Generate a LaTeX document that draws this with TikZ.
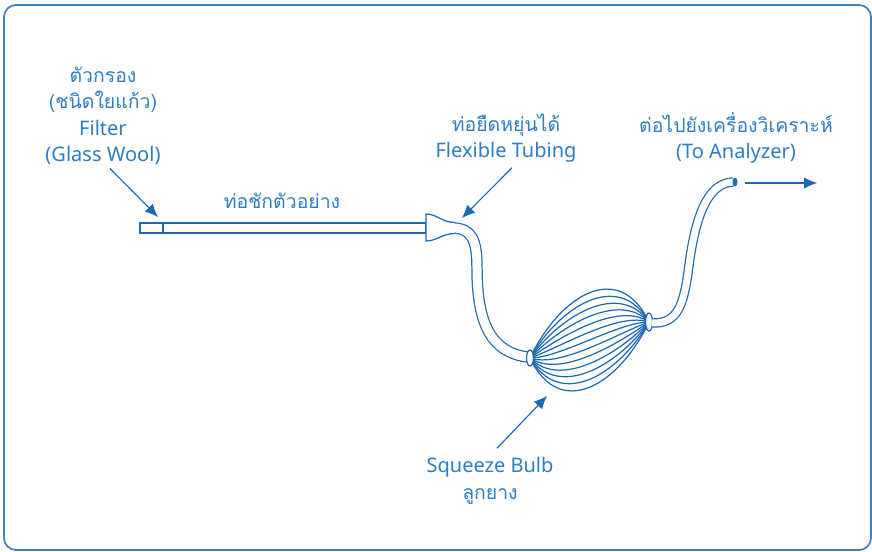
\documentclass[tikz,border=0pt]{standalone}
\usepackage{fontspec}
\setmainfont{Noto Sans}
\newfontfamily\thaifont[Script=Thai,Scale=0.97]{Loma}
\usetikzlibrary{arrows.meta}
\definecolor{lineblue}{RGB}{30,105,180}
\definecolor{textblue}{RGB}{45,125,195}

\begin{document}
\begin{tikzpicture}[x=0.02cm,y=-0.02cm,
    lbl/.style={text=textblue, align=center, inner sep=0pt,
      font=\fontsize{11.4}{15.1}\selectfont},
    pointer/.style={-{Latex[length=2.6mm,width=2.3mm]}, lineblue, line width=0.65pt},
    tube/.style={lineblue, line width=0.7pt, double=white},
    bulbline/.style={lineblue, line width=0.7pt}]
      \useasboundingbox (0,0) rectangle (872,551);
      \draw [lineblue!85, line width=1pt, rounded corners=0.24cm] (4,5) rectangle (871,550);

      % labels
      \node [lbl] (filter) at (103,116) {{\thaifont ตัวกรอง}\\{\thaifont (ชนิดใยแก้ว)}\\Filter\\(Glass Wool)};
      \node [lbl] (probe) at (282,201) {\thaifont ท่อชักตัวอย่าง};
      \node [lbl] (flex) at (506,138) {{\thaifont ท่อยืดหยุ่นได้}\\Flexible Tubing};
      \node [lbl] (analyzer) at (736,138) {{\thaifont ต่อไปยังเครื่องวิเคราะห์}\\(To Analyzer)};
      \node [lbl] (bulb) at (490,481) {Squeeze Bulb\\{\thaifont ลูกยาง}};

      % probe with filter section
      \draw [lineblue, line width=0.7pt] (140,223) rectangle (426,233);
      \draw [lineblue, line width=0.7pt] (163,223) -- (163,233);

      % flexible tubing down to the bulb
      \draw [tube, double distance=0.18cm] (452,228) .. controls (472,228) and (477,240) .. (477,268)
            .. controls (477,325) and (492,352) .. (527,357);
      \fill [white] (426,214) .. controls (437,214) and (442,222.5) .. (455,222.5) -- (455,233.5)
            .. controls (442,233.5) and (437,241) .. (426,241) -- cycle;
      \draw [lineblue, line width=0.7pt] (455,222.5) .. controls (442,222.5) and (437,214) .. (426,214)
            -- (426,241) .. controls (437,241) and (442,233.5) .. (455,233.5);

      % squeeze bulb
      \coordinate (bulbL) at (530,358);
      \coordinate (bulbR) at (649,322);
      \foreach \v in {-63,-52.5,...,64}
        \draw [bulbline] (bulbL) .. controls +(30,\v) and +(-30,\v) .. (bulbR);
      \draw [bulbline, fill=white] (bulbL) ellipse (3.5 and 8);
      \draw [bulbline, fill=white] (bulbR) ellipse (3.5 and 9);

      % outlet tube
      \draw [tube, double distance=0.14cm] (652,323) .. controls (678,324) and (684,305) .. (689,265)
            .. controls (697,205) and (712,183) .. (733,182);
      \fill [lineblue] (735,182) ellipse (2.5 and 4.5);

      % pointers
      \coordinate (filtertip) at (158,217);
      \coordinate (flextip) at (462,218);
      \coordinate (bulbtip) at (547,396);
      \coordinate (outstart) at (745,183);
      \coordinate (outend) at (817,183);
      \draw [pointer] ([shift={(7,3)}]filter.south) -- (filtertip);
      \draw [pointer] ([shift={(6,5)}]flex.south) -- (flextip);
      \draw [pointer] ([shift={(7,-9)}]bulb.north) -- (bulbtip);
      \draw [pointer] (outstart) -- (outend);
\end{tikzpicture}
\end{document}
